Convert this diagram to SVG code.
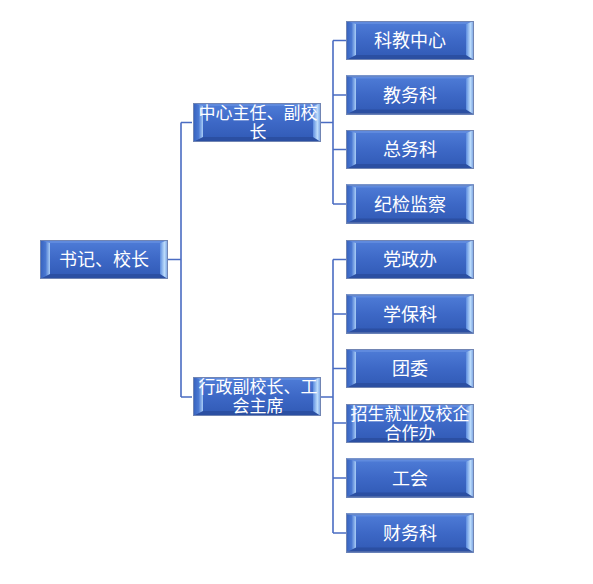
<svg xmlns="http://www.w3.org/2000/svg" xmlns:xlink="http://www.w3.org/1999/xlink" width="593" height="584" viewBox="0 0 593 584">
<defs>
<linearGradient id="gBase" x1="0" y1="0" x2="0" y2="1">
<stop offset="0" stop-color="#4f7dd8"/>
<stop offset="0.5" stop-color="#3d68c6"/>
<stop offset="1" stop-color="#3059b4"/>
</linearGradient>
<linearGradient id="gLeft" x1="0" y1="0" x2="1" y2="0">
<stop offset="0" stop-color="#3560bb"/>
<stop offset="0.55" stop-color="#4a78d2"/>
<stop offset="1" stop-color="#a9cdf6"/>
</linearGradient>
<linearGradient id="gRight" x1="0" y1="0" x2="1" y2="0">
<stop offset="0" stop-color="#5d8de0"/>
<stop offset="0.55" stop-color="#bcdcfb"/>
<stop offset="1" stop-color="#6f9ae0"/>
</linearGradient>
<g id="box">
<rect x="0" y="0" width="128" height="39" fill="url(#gBase)"/>
<polygon points="0,0 128,0 120,3 8,3" fill="#5f8ade"/>
<polygon points="0,39 128,39 120,34 8,34" fill="#2b4fa2"/>
<polygon points="0,0 10,3 10,34 0,39" fill="url(#gLeft)"/>
<polygon points="128,0 120,3 120,34 128,39" fill="url(#gRight)"/>
<rect x="0.5" y="0.5" width="127" height="38" fill="none" stroke="#7185b3" stroke-width="1"/>
</g>
<style>
.t{font-family:"Liberation Sans","Noto Sans CJK SC",sans-serif;font-size:18px;fill:#ffffff;text-anchor:middle}
.t2{font-size:17px}
.c{fill:none;stroke:#4a6cc2;stroke-width:1.6}
</style>
</defs>
<rect width="593" height="584" fill="#ffffff"/>
<g id="connectors">
<path class="c" d="M168,259.5 H181 M181,122.5 V397 M181,122.5 H192 M181,397 H192"/>
<path class="c" d="M321,122.5 H333 M333,40.5 V204 M333,40.5 H346 M333,95 H346 M333,149.5 H346 M333,204 H346"/>
<path class="c" d="M321,397 H333 M333,259.5 V533 M333,259.5 H346 M333,314 H346 M333,368.5 H346 M333,423 H346 M333,478 H346 M333,533 H346"/>
</g>
<g id="root"><use xlink:href="#box" x="40" y="240"/><text class="t" x="104" y="266">书记、校长</text></g>
<g id="mid1"><use xlink:href="#box" x="193" y="103"/><text class="t t2" x="258" y="119">中心主任、副校</text><text class="t t2" x="258" y="138">长</text></g>
<g id="mid2"><use xlink:href="#box" x="193" y="377"/><text class="t t2" x="258" y="393">行政副校长、工</text><text class="t t2" x="258" y="412">会主席</text></g>
<g id="n1"><use xlink:href="#box" x="346" y="21"/><text class="t" x="410" y="47">科教中心</text></g>
<g id="n2"><use xlink:href="#box" x="346" y="75.5"/><text class="t" x="410" y="101.5">教务科</text></g>
<g id="n3"><use xlink:href="#box" x="346" y="130"/><text class="t" x="410" y="156">总务科</text></g>
<g id="n4"><use xlink:href="#box" x="346" y="184.5"/><text class="t" x="410" y="210.5">纪检监察</text></g>
<g id="n5"><use xlink:href="#box" x="346" y="240"/><text class="t" x="410" y="266">党政办</text></g>
<g id="n6"><use xlink:href="#box" x="346" y="294.5"/><text class="t" x="410" y="320.5">学保科</text></g>
<g id="n7"><use xlink:href="#box" x="346" y="349"/><text class="t" x="410" y="375">团委</text></g>
<g id="n8"><use xlink:href="#box" x="346" y="404"/><text class="t t2" x="410" y="420">招生就业及校企</text><text class="t t2" x="410" y="439">合作办</text></g>
<g id="n9"><use xlink:href="#box" x="346" y="458.5"/><text class="t" x="410" y="484.5">工会</text></g>
<g id="n10"><use xlink:href="#box" x="346" y="513.5"/><text class="t" x="410" y="539.5">财务科</text></g>
</svg>
